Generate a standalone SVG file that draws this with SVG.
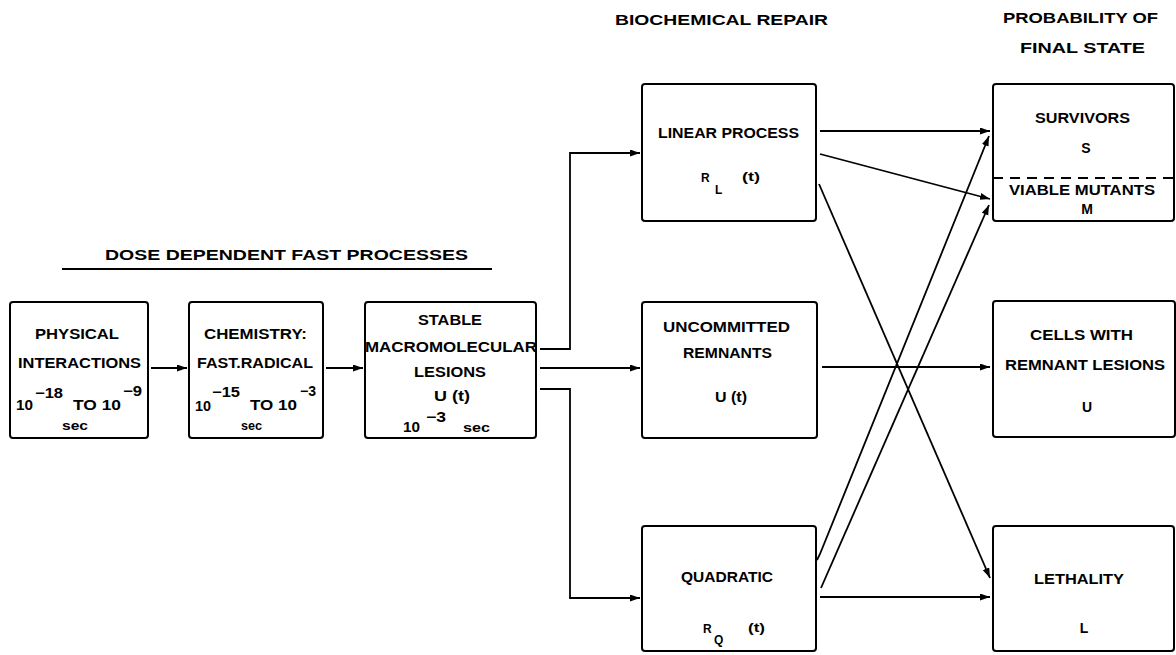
<svg xmlns="http://www.w3.org/2000/svg" width="1176" height="655" viewBox="0 0 1176 655">
<style>
.box{fill:#fff;stroke:#000;stroke-width:2}
.t{font-family:"Liberation Sans",Arial,sans-serif;font-weight:bold;font-size:14px;fill:#000}
.h{font-size:15px}
.s{font-size:12px}
.m{text-anchor:middle}
.c{fill:none;stroke:#000;stroke-width:1.8}
</style>
<defs>
<marker id="ah" markerUnits="userSpaceOnUse" markerWidth="11" markerHeight="8" refX="10" refY="3.5" orient="auto">
<path d="M0,0 L10,3.5 L0,7 z" fill="#000"/>
</marker>
</defs>
<rect width="1176" height="655" fill="#fff"/>

<g id="headers">
<text class="t h" x="105" y="260" textLength="363" lengthAdjust="spacingAndGlyphs">DOSE DEPENDENT FAST PROCESSES</text>
<line x1="62" y1="269" x2="492" y2="269" stroke="#000" stroke-width="2"/>
<text class="t h" x="615" y="25" textLength="213" lengthAdjust="spacingAndGlyphs">BIOCHEMICAL REPAIR</text>
<text class="t h" x="1003" y="23" textLength="155" lengthAdjust="spacingAndGlyphs">PROBABILITY OF</text>
<text class="t h" x="1020" y="53" textLength="125" lengthAdjust="spacingAndGlyphs">FINAL STATE</text>
</g>

<g id="physical">
<rect class="box" x="10" y="302" width="138" height="136" rx="3"/>
<text class="t" x="35" y="339" textLength="84" lengthAdjust="spacingAndGlyphs">PHYSICAL</text>
<text class="t" x="18" y="368" textLength="123" lengthAdjust="spacingAndGlyphs">INTERACTIONS</text>
<text class="t" x="16" y="410" textLength="17" lengthAdjust="spacingAndGlyphs">10</text>
<text class="t" x="35" y="398" textLength="28" lengthAdjust="spacingAndGlyphs">−18</text>
<text class="t" x="73" y="410" textLength="48" lengthAdjust="spacingAndGlyphs">TO 10</text>
<text class="t" x="123" y="396" textLength="19" lengthAdjust="spacingAndGlyphs">−9</text>
<text class="t s" x="62" y="430" textLength="26" lengthAdjust="spacingAndGlyphs">sec</text>
</g>

<g id="chemistry">
<rect class="box" x="189" y="302" width="134" height="136" rx="3"/>
<text class="t" x="204" y="339" textLength="103" lengthAdjust="spacingAndGlyphs">CHEMISTRY:</text>
<text class="t" x="197" y="368" textLength="116" lengthAdjust="spacingAndGlyphs">FAST.RADICAL</text>
<text class="t" x="195" y="411" textLength="16" lengthAdjust="spacingAndGlyphs">10</text>
<text class="t" x="212" y="397" textLength="28" lengthAdjust="spacingAndGlyphs">−15</text>
<text class="t" x="250" y="410" textLength="47" lengthAdjust="spacingAndGlyphs">TO 10</text>
<text class="t" x="300" y="396" textLength="16" lengthAdjust="spacingAndGlyphs">−3</text>
<text class="t s" x="241" y="430" textLength="21" lengthAdjust="spacingAndGlyphs">sec</text>
</g>

<g id="stable">
<rect class="box" x="365" y="302" width="171" height="136" rx="3"/>
<text class="t" x="418" y="325" textLength="64" lengthAdjust="spacingAndGlyphs">STABLE</text>
<text class="t" x="365" y="352" textLength="172" lengthAdjust="spacingAndGlyphs">MACROMOLECULAR</text>
<text class="t" x="414" y="377" textLength="72" lengthAdjust="spacingAndGlyphs">LESIONS</text>
<text class="t" x="434" y="401" textLength="36" lengthAdjust="spacingAndGlyphs">U (t)</text>
<text class="t" x="403" y="432" textLength="17" lengthAdjust="spacingAndGlyphs">10</text>
<text class="t" x="426" y="422" textLength="20" lengthAdjust="spacingAndGlyphs">−3</text>
<text class="t s" x="463" y="432" textLength="27" lengthAdjust="spacingAndGlyphs">sec</text>
</g>

<g id="linear">
<rect class="box" x="642" y="84" width="174" height="137" rx="3"/>
<text class="t" x="658" y="138" textLength="141" lengthAdjust="spacingAndGlyphs">LINEAR PROCESS</text>
<text class="t s" x="701" y="182">R</text>
<text class="t s" x="715" y="194">L</text>
<text class="t s" x="742" y="181" textLength="18" lengthAdjust="spacingAndGlyphs">(t)</text>
</g>

<g id="uncommitted">
<rect class="box" x="642" y="302" width="175" height="136" rx="3"/>
<text class="t" x="663" y="332" textLength="127" lengthAdjust="spacingAndGlyphs">UNCOMMITTED</text>
<text class="t" x="683" y="358" textLength="89" lengthAdjust="spacingAndGlyphs">REMNANTS</text>
<text class="t" x="715" y="402" textLength="32" lengthAdjust="spacingAndGlyphs">U (t)</text>
</g>

<g id="quadratic">
<rect class="box" x="642" y="526" width="174" height="125" rx="3"/>
<text class="t" x="681" y="582" textLength="92" lengthAdjust="spacingAndGlyphs">QUADRATIC</text>
<text class="t s" x="703" y="633">R</text>
<text class="t s" x="714" y="644">Q</text>
<text class="t s" x="748" y="632" textLength="17" lengthAdjust="spacingAndGlyphs">(t)</text>
</g>

<g id="survivors">
<rect class="box" x="993" y="84" width="181" height="137" rx="3"/>
<line x1="993" y1="178" x2="1174" y2="178" stroke="#000" stroke-width="2" stroke-dasharray="10 7"/>
<text class="t" x="1035" y="123" textLength="95" lengthAdjust="spacingAndGlyphs">SURVIVORS</text>
<text class="t m" x="1086" y="153">S</text>
<text class="t" x="1009" y="195" textLength="146" lengthAdjust="spacingAndGlyphs">VIABLE MUTANTS</text>
<text class="t m" x="1087" y="214">M</text>
</g>

<g id="cells">
<rect class="box" x="993" y="301" width="182" height="136" rx="3"/>
<text class="t" x="1030" y="340" textLength="103" lengthAdjust="spacingAndGlyphs">CELLS WITH</text>
<text class="t" x="1005" y="370" textLength="160" lengthAdjust="spacingAndGlyphs">REMNANT LESIONS</text>
<text class="t m" x="1087" y="412">U</text>
</g>

<g id="lethality">
<rect class="box" x="993" y="526" width="181" height="125" rx="3"/>
<text class="t" x="1034" y="584" textLength="90" lengthAdjust="spacingAndGlyphs">LETHALITY</text>
<text class="t m" x="1084" y="633">L</text>
</g>

<g id="connectors">
<path class="c" d="M151,368 H187" marker-end="url(#ah)"/>
<path class="c" d="M326,368 H363" marker-end="url(#ah)"/>
<path class="c" d="M540,349 H570 V153 H640" marker-end="url(#ah)"/>
<path class="c" d="M540,368 H640" marker-end="url(#ah)"/>
<path class="c" d="M540,389 H570 V598 H640" marker-end="url(#ah)"/>
<path class="c" d="M820,131 H990" marker-end="url(#ah)"/>
<path class="c" d="M820,154 L990,199" marker-end="url(#ah)"/>
<path class="c" d="M819,184 L990,578" marker-end="url(#ah)"/>
<path class="c" d="M817,560 L820,554 L989,136" marker-end="url(#ah)"/>
<path class="c" d="M821,588 L989,205" marker-end="url(#ah)"/>
<path class="c" d="M822,367 H990" marker-end="url(#ah)"/>
<path class="c" d="M820,597 H990" marker-end="url(#ah)"/>
</g>
</svg>
